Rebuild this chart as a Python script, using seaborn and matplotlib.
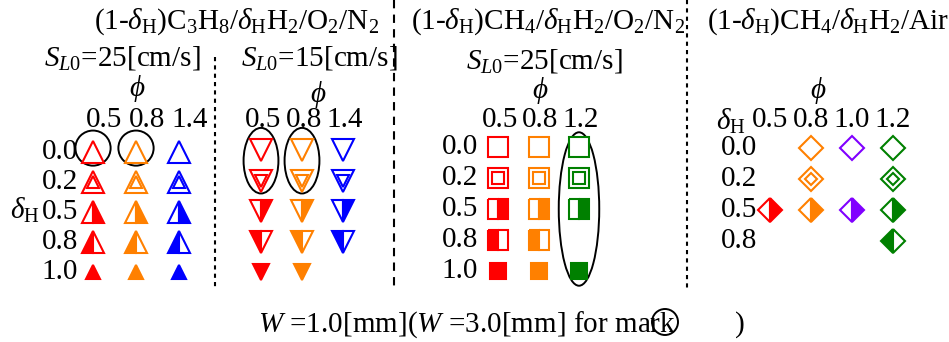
import matplotlib
matplotlib.use("Agg")
import matplotlib.pyplot as plt
import seaborn as sns
from matplotlib.patches import Ellipse
from matplotlib.transforms import blended_transform_factory

sns.set_theme(style="white")
plt.rcParams["font.family"] = ["Liberation Serif", "DejaVu Serif"]
plt.rcParams["text.color"] = "black"
plt.rcParams["mathtext.fontset"] = "custom"
plt.rcParams["mathtext.rm"] = "Liberation Serif"
plt.rcParams["mathtext.it"] = "Liberation Serif:italic"
plt.rcParams["mathtext.bf"] = "Liberation Serif:bold"
FS = 21
W_PX, H_PX = 949, 342

# ---- data -------------------------------------------------------------
dh_levels = ["0.0", "0.2", "0.5", "0.8", "1.0"]
dh_levels_air = ["0.0", "0.2", "0.5", "0.8"]

phi_c3h8 = ["0.5", "0.8", "1.4"]
phi_ch4_o2 = ["0.5", "0.8", "1.2"]
phi_ch4_air = ["0.5", "0.8", "1.0", "1.2"]

colors_c3h8 = ["#ff0000", "#ff8000", "#0000ff"]
colors_ch4_o2 = ["#ff0000", "#ff8000", "#008000"]
colors_ch4_air = ["#ff0000", "#ff8000", "#8000ff", "#008000"]

# dH values computed for each phi column
cases_c3h8_sl25 = [dh_levels, dh_levels, dh_levels]
cases_c3h8_sl15 = [dh_levels, dh_levels, ["0.0", "0.2", "0.5", "0.8"]]
cases_ch4_o2 = [dh_levels, dh_levels, ["0.0", "0.2", "0.5", "1.0"]]
cases_ch4_air = [["0.5"], ["0.0", "0.2", "0.5"], ["0.0", "0.5"],
                 ["0.0", "0.2", "0.5", "0.8"]]

# cases run with W = 3.0 mm (phi, dH values)
wide_c3h8_sl25 = [("0.5", ["0.0"]), ("0.8", ["0.0"])]
wide_c3h8_sl15 = [("0.5", ["0.0", "0.2"]), ("0.8", ["0.0", "0.2"])]
wide_ch4_o2 = [("1.2", ["0.0", "0.2", "0.5", "1.0"])]


def draw_marker(ax, x, y, marker, color, dh, ms, ms_full):
    kw = dict(marker=marker, color=color, markeredgecolor=color,
              markeredgewidth=1.5, clip_on=False, ls="none")
    if dh == "0.0":
        ax.plot(x, y, markerfacecolor="white", markersize=ms, **kw)
    elif dh == "0.2":
        ax.plot(x, y, markerfacecolor="white", markersize=ms, **kw)
        ax.plot(x, y, markerfacecolor="none", markersize=ms * 0.55, **kw)
    elif dh == "0.5":
        ax.plot(x, y, fillstyle="left", markerfacecolor="white",
                markerfacecoloralt=color, markersize=ms, **kw)
    elif dh == "0.8":
        ax.plot(x, y, fillstyle="left", markerfacecolor=color,
                markerfacecoloralt="white", markersize=ms, **kw)
    else:
        ax.plot(x, y, markerfacecolor=color, markersize=ms_full, **kw)


def make_panel(fig, col0, dx, row0, dy, ncol, nrow):
    left = (col0 - 0.5 * dx) / W_PX
    bottom_px = row0 + (nrow - 0.5) * dy
    ax = fig.add_axes([left, 1 - bottom_px / H_PX, ncol * dx / W_PX, nrow * dy / H_PX])
    ax.set_xlim(-0.5, ncol - 0.5)
    ax.set_ylim(nrow - 0.5, -0.5)
    ax.axis("off")
    return ax


def fill_panel(ax, bg, phis, rows, cases, colors, marker, ms, ms_full,
               head_dx=0.0, row_label_x=None):
    for i, (dhs, c) in enumerate(zip(cases, colors)):
        for dh in dhs:
            draw_marker(ax, i, rows.index(dh), marker, c, dh, ms, ms_full)
    tr = blended_transform_factory(ax.transData, bg.transData)
    for i, p in enumerate(phis):
        ax.text(i + head_dx, 120, p, transform=tr, ha="center", va="center", fontsize=FS)
    if row_label_x is not None:
        tr2 = blended_transform_factory(bg.transData, ax.transData)
        for j, r in enumerate(rows):
            ax.text(row_label_x, j, r, transform=tr2, ha="right", va="center", fontsize=FS)


def mark_wide(ax, phis, rows, wide, width, pad, dy_shift=0.0):
    for p, dhs in wide:
        i = phis.index(p)
        j0, j1 = rows.index(dhs[0]), rows.index(dhs[-1])
        ax.add_patch(Ellipse((i, (j0 + j1) / 2 + dy_shift), width, j1 - j0 + pad,
                             fill=False, ec="black", lw=1.4, clip_on=False))


fig = plt.figure(figsize=(W_PX / 100, H_PX / 100), dpi=100)
bg = fig.add_axes([0, 0, 1, 1])
bg.set_xlim(0, W_PX)
bg.set_ylim(H_PX, 0)
bg.axis("off")

# panel 1: C3H8, SL0 = 25
ax1 = make_panel(fig, 93, 43, 152, 30, 3, 5)
fill_panel(ax1, bg, phi_c3h8, dh_levels, cases_c3h8_sl25, colors_c3h8, "^", 16, 10,
           head_dx=0.26, row_label_x=78)
mark_wide(ax1, phi_c3h8, dh_levels, wide_c3h8_sl25, 0.82, 1.17, dy_shift=-0.13)

# panel 2: C3H8, SL0 = 15
ax2 = make_panel(fig, 261, 41, 150, 30.5, 3, 5)
fill_panel(ax2, bg, phi_c3h8, dh_levels, cases_c3h8_sl15, colors_c3h8, "v", 16, 11,
           head_dx=0.05)
mark_wide(ax2, phi_c3h8, dh_levels, wide_c3h8_sl15, 0.85, 1.15, dy_shift=-0.15)

# panel 3: CH4 / O2 / N2
ax3 = make_panel(fig, 498, 40.5, 147, 31, 3, 5)
fill_panel(ax3, bg, phi_ch4_o2, dh_levels, cases_ch4_o2, colors_ch4_o2, "s", 14.5, 12,
           head_dx=0.05, row_label_x=478)
mark_wide(ax3, phi_ch4_o2, dh_levels, wide_ch4_o2, 1.0, 0.95)

# panel 4: CH4 / Air
ax4 = make_panel(fig, 770, 41, 148, 31, 4, 4)
fill_panel(ax4, bg, phi_ch4_air, dh_levels_air, cases_ch4_air, colors_ch4_air, "D", 12, 12,
           row_label_x=757)

# titles and labels
dH = r"$\delta_{\rm H}$"
bg.text(237, 22, r"(1-$\delta_{\rm H}$)C$_3$H$_8$/$\delta_{\rm H}$H$_2$/O$_2$/N$_2$",
        ha="center", va="center", fontsize=FS)
bg.text(548, 22, r"(1-$\delta_{\rm H}$)CH$_4$/$\delta_{\rm H}$H$_2$/O$_2$/N$_2$",
        ha="center", va="center", fontsize=FS)
bg.text(828, 22, r"(1-$\delta_{\rm H}$)CH$_4$/$\delta_{\rm H}$H$_2$/Air",
        ha="center", va="center", fontsize=FS)
bg.text(122, 58, r"$S_{L0}$=25[cm/s]", ha="center", va="center", fontsize=FS)
bg.text(319, 58, r"$S_{L0}$=15[cm/s]", ha="center", va="center", fontsize=FS)
bg.text(544, 61, r"$S_{L0}$=25[cm/s]", ha="center", va="center", fontsize=FS)
for x, y in [(137, 89), (318, 94), (540, 91), (818, 91)]:
    bg.text(x, y, r"$\phi$", ha="center", va="center", fontsize=FS)
bg.text(25, 210, dH, ha="center", va="center", fontsize=FS)
bg.text(746, 121, dH, ha="right", va="center", fontsize=FS)

# footer
bg.text(258, 325, r"$W$ =1.0[mm]($W$ =3.0[mm] for mark", ha="left", va="center", fontsize=FS)
bg.text(740, 325, ")", ha="center", va="center", fontsize=FS)
bg.add_patch(Ellipse((665, 322), 26, 26, fill=False, ec="black", lw=1.4))

# separators
bg.plot([215, 215], [57, 290], color="black", lw=1.5, ls=(0, (2, 2)))
bg.plot([394, 394], [0, 290], color="black", lw=1.5, ls=(0, (4, 3)))
bg.plot([687, 687], [0, 290], color="black", lw=1.5, ls=(0, (2, 2)))

fig.savefig("out.png", dpi=100)
